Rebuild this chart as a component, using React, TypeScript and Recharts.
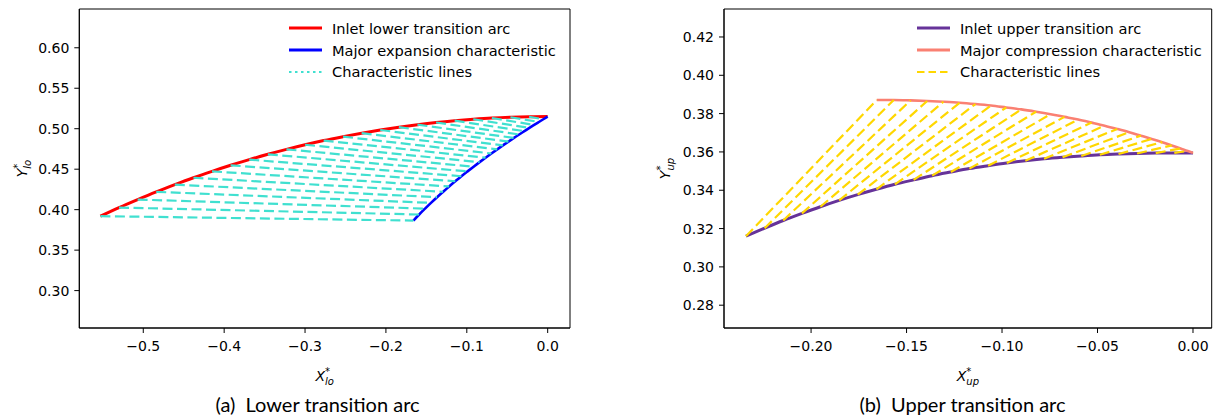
import React from 'react';
import { ComposedChart, Line, XAxis, YAxis, ReferenceArea } from 'recharts';

// (a) lower transition arc
const lowerArcX = [-0.553, -0.530, -0.507, -0.484, -0.461, -0.438, -0.415, -0.392, -0.369, -0.346, -0.323, -0.300, -0.277, -0.253, -0.230, -0.207, -0.184, -0.161, -0.138, -0.115, -0.092, -0.069, -0.046, -0.023, 0.0];
const lowerArcY = [0.3920, 0.4026, 0.4125, 0.4220, 0.4309, 0.4394, 0.4473, 0.4548, 0.4618, 0.4684, 0.4745, 0.4802, 0.4854, 0.4902, 0.4945, 0.4984, 0.5019, 0.5050, 0.5077, 0.5099, 0.5117, 0.5132, 0.5142, 0.5148, 0.5150];
const expansionX = [-0.166, -0.1589, -0.1516, -0.1443, -0.1368, -0.1293, -0.1218, -0.1142, -0.1067, -0.0991, -0.0916, -0.0842, -0.0768, -0.0696, -0.0624, -0.0554, -0.0485, -0.0417, -0.0352, -0.0288, -0.0226, -0.0167, -0.0109, -0.0054, 0.0];
const expansionY = [0.3865, 0.3940, 0.4013, 0.4084, 0.4154, 0.4221, 0.4287, 0.4351, 0.4413, 0.4473, 0.4531, 0.4587, 0.4642, 0.4694, 0.4745, 0.4794, 0.4841, 0.4886, 0.4929, 0.4970, 0.5010, 0.5047, 0.5083, 0.5117, 0.5150];

// (b) upper transition arc
const upperArcX = [-0.2341, -0.2243, -0.2146, -0.2048, -0.1951, -0.1853, -0.1756, -0.1658, -0.1561, -0.1463, -0.1366, -0.1268, -0.1171, -0.1073, -0.0975, -0.0878, -0.0780, -0.0683, -0.0585, -0.0488, -0.0390, -0.0293, -0.0195, -0.0098, 0.0];
const upperArcY = [0.3160, 0.3202, 0.3242, 0.3279, 0.3314, 0.3347, 0.3377, 0.3405, 0.3431, 0.3454, 0.3476, 0.3495, 0.3513, 0.3528, 0.3542, 0.3554, 0.3564, 0.3572, 0.3579, 0.3585, 0.3589, 0.3592, 0.3594, 0.3595, 0.3595];
const compressionX = [-0.1656, -0.1567, -0.1479, -0.1392, -0.1307, -0.1222, -0.1139, -0.1058, -0.0978, -0.0899, -0.0822, -0.0746, -0.0673, -0.0601, -0.0531, -0.0463, -0.0397, -0.0334, -0.0273, -0.0216, -0.0161, -0.0111, -0.0065, -0.0027, 0.0];
const compressionY = [0.3871, 0.3871, 0.3869, 0.3866, 0.3862, 0.3857, 0.3850, 0.3842, 0.3832, 0.3822, 0.3810, 0.3797, 0.3783, 0.3769, 0.3753, 0.3737, 0.3720, 0.3703, 0.3685, 0.3668, 0.3651, 0.3634, 0.3618, 0.3605, 0.3595];

const lowerXTicks = [-0.5, -0.4, -0.3, -0.2, -0.1, 0.0];
const lowerYTicks = [0.30, 0.35, 0.40, 0.45, 0.50, 0.55, 0.60];
const upperXTicks = [-0.20, -0.15, -0.10, -0.05, 0.0];
const upperYTicks = [0.28, 0.30, 0.32, 0.34, 0.36, 0.38, 0.40, 0.42];

const FONT = '"DejaVu Sans", sans-serif';
const minus = (s: string) => s.replace('-', '\u2212');
const fmt = (d: number) => (v: number) => minus(v.toFixed(d));

const toPts = (xs: number[], ys: number[]) => xs.map((x, i) => ({ x, y: ys[i] }));
const pairs = (ax: number[], ay: number[], bx: number[], by: number[]) =>
  ax.map((x, i) => [{ x, y: ay[i] }, { x: bx[i], y: by[i] }]);

function MathLabel({ x, y, sub, letter, rotate }: any) {
  return (
    <text x={x} y={y} textAnchor="middle" fontFamily={FONT} fontSize={14} fill="#000"
      transform={rotate ? `rotate(-90 ${x} ${y})` : undefined}>
      <tspan fontStyle="italic">{letter}</tspan>
      <tspan dy={-6} fontSize={10}>*</tspan>
      <tspan dx={-5} dy={10} fontSize={10} fontStyle="italic">{sub}</tspan>
    </text>
  );
}

function LegendBox({ left, items }: any) {
  return (
    <div style={{ position: 'absolute', left, top: 17.5, fontFamily: FONT, fontSize: 14.6, color: '#000' }}>
      {items.map((it: any) => (
        <div key={it.label} style={{ display: 'flex', alignItems: 'center', height: 21.8 }}>
          <svg width={33} height={6} style={{ marginRight: 10 }}>
            <line x1={0} y1={3} x2={33} y2={3} stroke={it.color} strokeWidth={it.w} strokeDasharray={it.dash} />
          </svg>
          <span style={{ whiteSpace: 'nowrap' }}>{it.label}</span>
        </div>
      ))}
    </div>
  );
}

function Panel({ width, yAxisW, marginRight, xDomain, yDomain, xTicks, yTicks, xDec, arc, arcColor, chr, chrColor, fan, fanColor, sub, yLabelX }: any) {
  const h = 419;
  const plotBottom = 328;
  const plotLeft = yAxisW;
  const plotRight = width - marginRight;
  return (
    <ComposedChart width={width} height={h} margin={{ top: 9, right: marginRight, bottom: h - plotBottom - 30, left: 0 }}>
      <XAxis type="number" dataKey="x" domain={xDomain} allowDataOverflow ticks={xTicks}
        tickFormatter={fmt(xDec)} height={30} tickSize={5} tickMargin={8}
        tick={{ fontFamily: FONT, fontSize: 14, fill: '#000' }} stroke="#000"
        label={{ content: () => <MathLabel x={(plotLeft + plotRight) / 2} y={381} letter="X" sub={sub} /> }} />
      <YAxis type="number" dataKey="y" domain={yDomain} allowDataOverflow ticks={yTicks}
        tickFormatter={fmt(2)} width={yAxisW} tickSize={5} tickMargin={5}
        tick={{ fontFamily: FONT, fontSize: 14, fill: '#000' }} stroke="#000"
        label={{ content: () => <MathLabel x={yLabelX} y={(9 + plotBottom) / 2} letter="Y" sub={sub} rotate /> }} />
      <ReferenceArea x1={xDomain[0]} x2={xDomain[1]} y1={yDomain[0]} y2={yDomain[1]}
        fill="none" stroke="#000" strokeWidth={1} ifOverflow="visible" />
      <Line data={arc} dataKey="y" type="monotone" stroke={arcColor} strokeWidth={3}
        dot={false} activeDot={false} isAnimationActive={false} />
      <Line data={chr} dataKey="y" type="monotone" stroke={chrColor} strokeWidth={2.6}
        dot={false} activeDot={false} isAnimationActive={false} />
      {fan.map((seg: any, i: number) => (
        <Line key={i} data={seg} dataKey="y" type="linear" stroke={fanColor} strokeWidth={2.2}
          strokeDasharray="10 4.5" dot={false} activeDot={false} isAnimationActive={false} />
      ))}
    </ComposedChart>
  );
}

const captionStyle: React.CSSProperties = {
  position: 'absolute', width: 400, top: 392, textAlign: 'center',
  fontFamily: 'Lato, sans-serif', fontSize: 20, color: '#000', whiteSpace: 'nowrap',
};

export default function App() {
  const lowerFan = pairs(lowerArcX, lowerArcY, expansionX, expansionY);
  const upperFan = pairs(upperArcX, upperArcY, compressionX, compressionY);
  return (
    <div style={{ position: 'absolute', left: 0, top: 0, width: 1221, height: 419, background: '#fff', overflow: 'hidden' }}>
      <div style={{ position: 'absolute', left: 0, top: 0 }}>
        <Panel width={600} yAxisW={79.3} marginRight={30}
          xDomain={[-0.5791, 0.0276]} yDomain={[0.2538, 0.6479]}
          xTicks={lowerXTicks} yTicks={lowerYTicks} xDec={1}
          arc={toPts(lowerArcX, lowerArcY)} arcColor="#ff0000"
          chr={toPts(expansionX, expansionY)} chrColor="#0000ff"
          fan={lowerFan} fanColor="#40e0d0" sub="lo" yLabelX={27} />
      </div>
      <div style={{ position: 'absolute', left: 610, top: 0 }}>
        <Panel width={611} yAxisW={114} marginRight={9.3}
          xDomain={[-0.2456, 0.0098]} yDomain={[0.2681, 0.4346]}
          xTicks={upperXTicks} yTicks={upperYTicks} xDec={2}
          arc={toPts(upperArcX, upperArcY)} arcColor="#663399"
          chr={toPts(compressionX, compressionY)} chrColor="#fa8072"
          fan={upperFan} fanColor="#ffd700" sub="up" yLabelX={60} />
      </div>
      <LegendBox left={289} items={[
        { label: 'Inlet lower transition arc', color: '#ff0000', w: 3 },
        { label: 'Major expansion characteristic', color: '#0000ff', w: 3 },
        { label: 'Characteristic lines', color: '#40e0d0', w: 2, dash: '2.5 3.5' },
      ]} />
      <LegendBox left={917} items={[
        { label: 'Inlet upper transition arc', color: '#663399', w: 3 },
        { label: 'Major compression characteristic', color: '#fa8072', w: 3 },
        { label: 'Characteristic lines', color: '#ffd700', w: 2, dash: '7.5 4' },
      ]} />
      <div style={{ ...captionStyle, left: 117.5 }}>(a)&nbsp; Lower transition arc</div>
      <div style={{ ...captionStyle, left: 762.5 }}>(b)&nbsp; Upper transition arc</div>
    </div>
  );
}
